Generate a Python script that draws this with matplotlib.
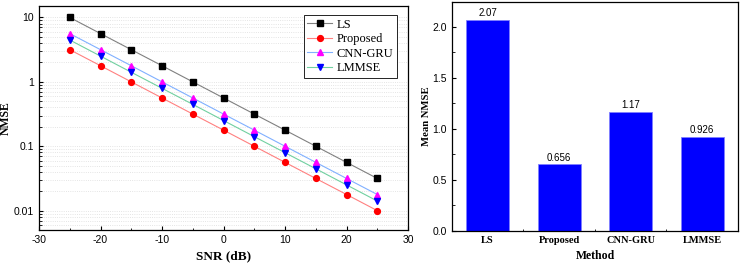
import matplotlib
matplotlib.use("Agg")
import matplotlib.pyplot as plt
from matplotlib.ticker import MultipleLocator, FixedLocator, LogLocator, NullFormatter

snr = [-25, -20, -15, -10, -5, 0, 5, 10, 15, 20, 25]
nmse_ls = [10, 5.62, 3.16, 1.78, 1.0, 0.562, 0.316, 0.178, 0.1, 0.0562, 0.0316]
nmse_proposed = [3.16, 1.78, 1.0, 0.562, 0.316, 0.178, 0.1, 0.0562, 0.0316, 0.0178, 0.01]
nmse_cnngru = [5.62, 3.16, 1.78, 1.0, 0.562, 0.316, 0.178, 0.1, 0.0562, 0.0316, 0.0178]
nmse_lmmse = [4.47, 2.51, 1.41, 0.794, 0.447, 0.251, 0.141, 0.0794, 0.0447, 0.0251, 0.0141]

methods = ["LS", "Proposed", "CNN-GRU", "LMMSE"]
mean_nmse = [2.07, 0.656, 1.17, 0.926]
mean_labels = ["2.07", "0.656", "1.17", "0.926"]

sans = ["Liberation Sans", "DejaVu Sans"]
serif = ["Liberation Serif", "DejaVu Serif"]
plt.rcParams['font.family'] = sans
plt.rcParams['axes.unicode_minus'] = False
plt.rcParams['xtick.direction'] = 'in'
plt.rcParams['ytick.direction'] = 'in'

fig = plt.figure(figsize=(7.4, 2.66), dpi=100)
ax1 = fig.add_axes([0.0527, 0.1353, 0.4987, 0.8417])
ax2 = fig.add_axes([0.6108, 0.1316, 0.3865, 0.8609])

# --- left: NMSE vs SNR
series = [
    ("LS", nmse_ls, "#808080", "s", "black", 3.8),
    ("Proposed", nmse_proposed, "#ff8080", "o", "red", 4.2),
    ("CNN-GRU", nmse_cnngru, "#80b0ff", "^", "magenta", 4.8),
    ("LMMSE", nmse_lmmse, "#70d0a0", "v", "blue", 4.8),
]
for name, vals, lc, mk, mc, ms in series:
    ax1.plot(snr, vals, color=lc, lw=0.8, marker=mk, markersize=ms,
             markerfacecolor=mc, markeredgecolor=mc, label=name, zorder=3)

ax1.set_yscale("log")
ax1.set_xlim(-30, 30)
ax1.set_ylim(0.005, 15)
ax1.set_yticks([0.01, 0.1, 1, 10])
ax1.set_yticklabels(["0.01", "0.1", "1", "10"])
ax1.yaxis.set_minor_locator(LogLocator(base=10, subs=range(2, 10)))
ax1.yaxis.set_minor_formatter(NullFormatter())
ax1.xaxis.set_major_locator(MultipleLocator(10))
ax1.xaxis.set_minor_locator(MultipleLocator(5))
ax1.grid(True, which="both", axis="y", color="#dcdcdc", ls=":", lw=0.6)
ax1.tick_params(labelsize=7.5, length=3, width=0.8)
ax1.tick_params(which="minor", length=1.8, width=0.6)
ax1.tick_params(top=False, right=False)
ax1.set_xlabel("SNR (dB)", family=serif, fontweight="bold", fontsize=9.5, labelpad=4)
ax1.set_ylabel("NMSE", family=serif, fontweight="bold", fontsize=8.5)
ax1.yaxis.set_label_coords(-0.074, 0.5)
leg = ax1.legend(loc="upper right", bbox_to_anchor=(0.976, 0.972), prop={"family": serif, "size": 9},
                 fancybox=False, edgecolor="black", framealpha=1, handlelength=2.0,
                 borderpad=0.3, labelspacing=0.2, handletextpad=0.3, borderaxespad=0.2)
leg.get_frame().set_linewidth(0.6)

# --- right: mean NMSE bars
x = list(range(len(methods)))
bars = ax2.bar(x, mean_nmse, width=0.6, color="#0000ff", edgecolor="#8080ff", lw=0.6, zorder=2)
for xi, v, lab in zip(x, mean_nmse, mean_labels):
    ax2.text(xi, v + 0.015, lab, ha="center", va="bottom", fontsize=7)
ax2.set_xlim(-0.5, 3.5)
ax2.set_ylim(0, 2.245)
ax2.set_xticks(x)
ax2.set_xticklabels(methods, family=serif, fontweight="bold", fontsize=7.5)
ax2.xaxis.set_minor_locator(FixedLocator([0.5, 1.5, 2.5]))
ax2.yaxis.set_major_locator(MultipleLocator(0.5))
ax2.yaxis.set_minor_locator(MultipleLocator(0.25))
ax2.yaxis.set_major_formatter(matplotlib.ticker.FormatStrFormatter("%.1f"))
ax2.tick_params(labelsize=7.5, length=3, width=0.8)
ax2.tick_params(which="minor", length=1.8, width=0.6)
ax2.tick_params(top=False, right=False)
ax2.set_xlabel("Method", family=serif, fontweight="bold", fontsize=8.5, labelpad=4)
ax2.set_ylabel("Mean NMSE", family=serif, fontweight="bold", fontsize=7.7)
ax2.yaxis.set_label_coords(-0.072, 0.5)

for ax in (ax1, ax2):
    for s in ax.spines.values():
        s.set_linewidth(0.9)

fig.savefig("out.png", dpi=100)
